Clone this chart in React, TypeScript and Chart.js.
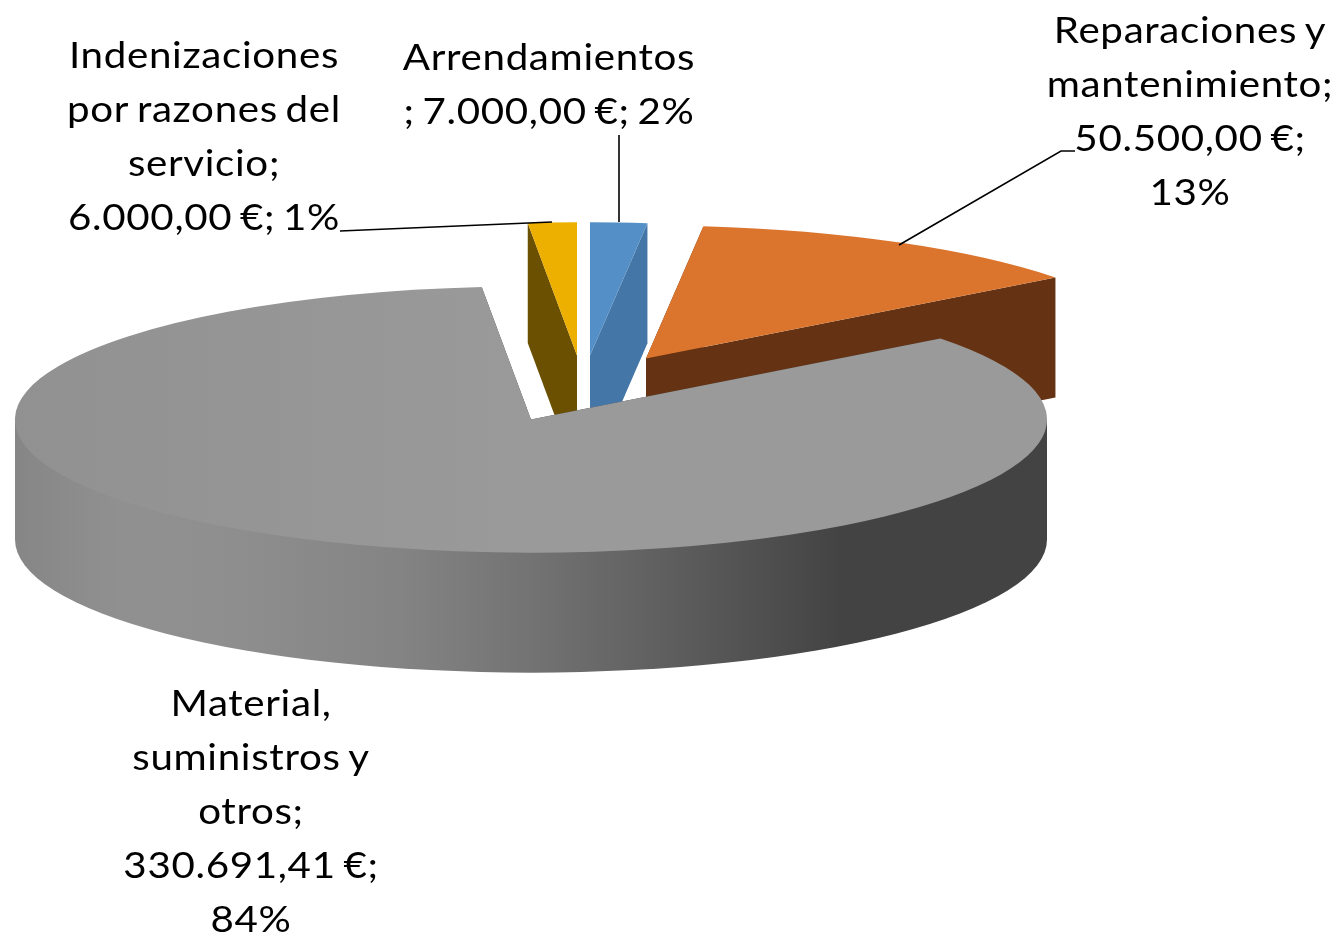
import { useEffect, useRef } from "react";
import { Chart, registerables } from "chart.js";

Chart.register(...registerables);

const categories = [
  "Arrendamientos",
  "Reparaciones y mantenimiento",
  "Material, suministros y otros",
  "Indenizaciones por razones del servicio",
];
const values = [7000, 50500, 330691.41, 6000];

const labelLines = [
  ["Arrendamientos", "; 7.000,00 €; 2%"],
  ["Reparaciones y", "mantenimiento;", "50.500,00 €;", "13%"],
  ["Material,", "suministros y", "otros;", "330.691,41 €;", "84%"],
  ["Indenizaciones", "por razones del", "servicio;", "6.000,00 €; 1%"],
];

const topColors = ["#5490C7", "#DB742D", "#9A9A9A", "#EDB000"];
const wallColors = ["#4476A7", "#653313", "#434343", "#6A5000"];

const W = 1343;
const H = 936;
const SQUASH = 0.258;
const DEPTH = 120;
const EXPLODE = [
  [59, -64],
  [115, -61],
  [0, 0],
  [46, -64],
];
const LABEL_POS = [
  [549, 70],
  [1190, 43],
  [251, 716],
  [204, 68],
];
const LINE_HEIGHT = 54;
const TEXT_STRETCH = 1.09;
const LEADERS = [
  [[619, 135], [619, 222]],
  [[1075, 151], [1061, 151], [899, 245]],
  [],
  [[340, 231], [552, 222]],
];
const DRAW_ORDER = [0, 1, 3, 2];

const pie3d = {
  id: "pie3d",
  beforeDatasetsDraw(chart: any) {
    const ctx = chart.ctx;
    const arcs = chart.getDatasetMeta(0).data;
    for (const i of DRAW_ORDER) {
      const arc = arcs[i];
      const { x, y, startAngle, endAngle, outerRadius: r } = arc;
      const [dx, dy] = EXPLODE[i];
      const cx = x + dx;
      const cy = y + dy;
      const px = (a: number) => cx + Math.cos(a) * r;
      const py = (a: number) => cy + Math.sin(a) * r * SQUASH;

      ctx.save();
      ctx.fillStyle = wallColors[i];
      for (const a of [startAngle, endAngle]) {
        ctx.beginPath();
        ctx.moveTo(cx, cy);
        ctx.lineTo(px(a), py(a));
        ctx.lineTo(px(a), py(a) + DEPTH);
        ctx.lineTo(cx, cy + DEPTH);
        ctx.closePath();
        ctx.fill();
      }

      // outer rim, only the part that faces the viewer
      const from = Math.max(startAngle, 0);
      const to = Math.min(endAngle, Math.PI);
      if (to > from) {
        const g = ctx.createLinearGradient(cx - r, 0, cx + r, 0);
        g.addColorStop(0, "#868686");
        g.addColorStop(0.1, "#909090");
        g.addColorStop(0.2, "#8F8F8F");
        g.addColorStop(0.37, "#848484");
        g.addColorStop(0.5, "#737373");
        g.addColorStop(0.66, "#5A5A5A");
        g.addColorStop(0.8, "#434343");
        g.addColorStop(1, "#434343");
        ctx.fillStyle = g;
        ctx.beginPath();
        ctx.ellipse(cx, cy + DEPTH, r, r * SQUASH, 0, from, to, false);
        ctx.lineTo(px(to), py(to));
        ctx.lineTo(px(from), py(from));
        ctx.closePath();
        ctx.fill();
      }

      // top face: the library's own arc, in a squashed space
      ctx.translate(cx, cy);
      ctx.scale(1, SQUASH);
      ctx.translate(-x, -y);
      arc.draw(ctx);
      ctx.restore();
    }

    // leader lines
    ctx.save();
    ctx.strokeStyle = "#000000";
    ctx.lineWidth = 1.6;
    for (const pts of LEADERS) {
      if (!pts.length) continue;
      ctx.beginPath();
      pts.forEach(([a, b], k) => (k ? ctx.lineTo(a, b) : ctx.moveTo(a, b)));
      ctx.stroke();
    }
    ctx.restore();

    // data labels
    ctx.save();
    ctx.fillStyle = "#000000";
    ctx.font = "37px Lato";
    ctx.letterSpacing = "0.6px";
    ctx.wordSpacing = "-3px";
    ctx.textAlign = "center";
    ctx.textBaseline = "alphabetic";
    labelLines.forEach((lines, i) => {
      const [lx, ly] = LABEL_POS[i];
      lines.forEach((t, k) => {
        ctx.save();
        ctx.translate(lx, ly + k * LINE_HEIGHT);
        ctx.scale(TEXT_STRETCH, 1);
        ctx.fillText(t, 0, 0);
        ctx.restore();
      });
    });
    ctx.restore();
    return false;
  },
};

export default function App() {
  const ref = useRef<HTMLCanvasElement>(null);
  useEffect(() => {
    const chart = new Chart(ref.current as HTMLCanvasElement, {
      type: "pie",
      data: {
        labels: categories,
        datasets: [
          {
            data: values,
            backgroundColor: (c: any) => {
              if (c.dataIndex !== 2) return topColors[c.dataIndex] ?? "#000";
              const g = c.chart.ctx.createLinearGradient(15, 0, 531, 0);
              g.addColorStop(0, "#919191");
              g.addColorStop(1, topColors[2]);
              return g;
            },
            borderWidth: 0,
            radius: 516,
          } as any,
        ],
      },
      options: {
        animation: false,
        responsive: false,
        rotation: 0,
        layout: { padding: { left: 0, top: 0, right: 281, bottom: 97 } },
        plugins: { legend: { display: false }, tooltip: { enabled: false } },
      },
      plugins: [pie3d as any],
    });
    return () => chart.destroy();
  }, []);
  return (
    <div style={{ position: "absolute", left: 0, top: 0, width: W, height: H, background: "#fff" }}>
      <canvas ref={ref} width={W} height={H} style={{ display: "block" }} />
    </div>
  );
}
